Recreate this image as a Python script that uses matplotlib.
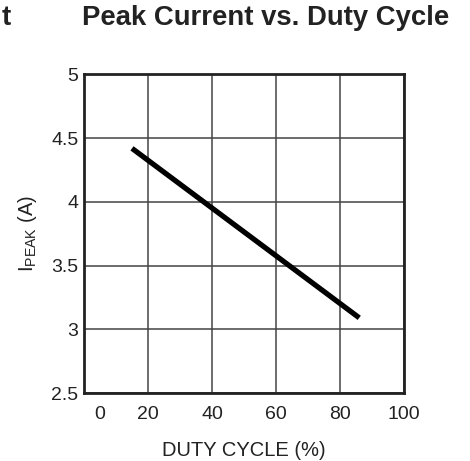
import matplotlib.pyplot as plt
from matplotlib.transforms import ScaledTranslation

plt.rcParams['font.family'] = ['Liberation Sans', 'DejaVu Sans']
plt.rcParams['mathtext.fontset'] = 'custom'
plt.rcParams['mathtext.rm'] = 'Liberation Sans'

# datos
duty = [15, 86]
ipeak = [4.42, 3.09]
xticks = [0, 20, 40, 60, 80, 100]
yticks = [2.5, 3, 3.5, 4, 4.5, 5]
ylabels = ['2.5', '3', '3.5', '4', '4.5', '5']

fig = plt.figure(figsize=(4.7, 4.61), dpi=100)
ax = fig.add_axes([0.1787, 0.1475, 0.681, 0.691])

ax.plot(duty, ipeak, color='black', lw=3.8, solid_capstyle='butt', zorder=3)

ax.set_xlim(0, 100)
ax.set_ylim(2.5, 5)
ax.set_xticks(xticks)
ax.set_yticks(yticks)
ax.set_yticklabels(ylabels)
ax.grid(True, color='#444444', lw=1.1)
ax.tick_params(length=0, labelsize=14, colors='#222222')
ax.tick_params(axis='x', pad=9)
ax.tick_params(axis='y', pad=4)
for s in ax.spines.values():
    s.set_linewidth(2.0)
    s.set_color('#222222')

# el 0 del eje x esta corrido a la derecha
lbl0 = ax.get_xticklabels()[0]
lbl0.set_transform(lbl0.get_transform() + ScaledTranslation(16 / 100, 0, fig.dpi_scale_trans))

ax.set_xlabel('DUTY CYCLE (%)', fontsize=14.5, color='#222222', labelpad=13)
ax.set_ylabel(r'$\mathregular{I_{PEAK}}$ (A)', fontsize=14.5, color='#222222', labelpad=9)

fig.text(0.565, 0.961, 'Peak Current vs. Duty Cycle', fontsize=19.8, fontweight='bold',
         ha='center', va='center', color='#222222')
fig.text(0.004, 0.961, 't', fontsize=19.8, fontweight='bold', ha='left', va='center', color='#222222')

plt.savefig('out.png', dpi=100)
